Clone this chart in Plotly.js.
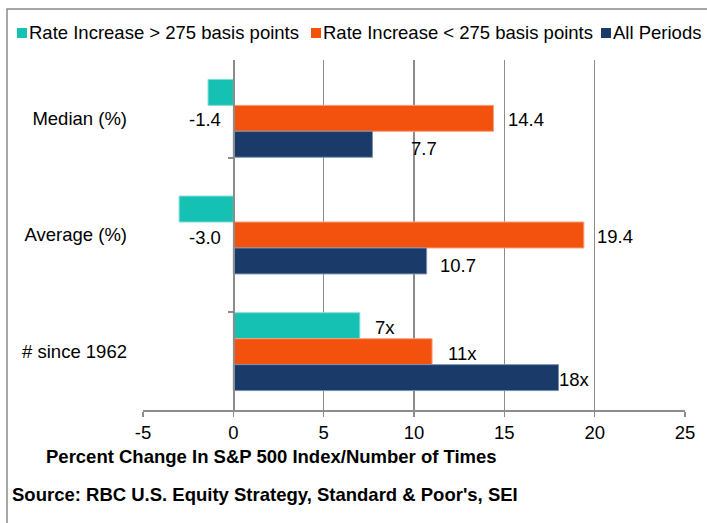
<!DOCTYPE html>
<html>
<head>
<meta charset="utf-8">
<script src="https://cdn.plot.ly/plotly-3.0.1.min.js"></script>
<style>
html, body { margin: 0; padding: 0; background: #ffffff; }
#chart { width: 707px; height: 523px; }
</style>
</head>
<body>
<div id="chart"></div>
<script>
// ---------------- DATA ----------------
const categories = ['Median (%)', 'Average (%)', '# since 1962'];
const seriesNames = ['Rate Increase > 275 basis points', 'Rate Increase < 275 basis points', 'All Periods'];
const rateAbove275 = [-1.4, -3.0, 7];
const rateBelow275 = [14.4, 19.4, 11];
const allPeriods = [7.7, 10.7, 18];
const labelsAbove275 = ['-1.4', '-3.0', '7x'];
const labelsBelow275 = ['14.4', '19.4', '11x'];
const labelsAllPeriods = ['7.7', '10.7', '18x'];
const xTickVals = [-5, 0, 5, 10, 15, 20, 25];
const xTickText = ['-5', '0', '5', '10', '15', '20', '25'];
const axisTitleText = 'Percent Change In S&P 500 Index/Number of Times';
const sourceText = "Source: RBC U.S. Equity Strategy, Standard & Poor's, SEI";

// ---------------- STYLE / GEOMETRY ----------------
const W = 707, H = 523;
const M = { l: 143, r: 22, t: 60, b: 113 };
const plotW = W - M.l - M.r, plotH = H - M.t - M.b;
const xRange = [-5, 25];
const BARGAP = 0.333;
const FONT = 'Liberation Sans, Arial, sans-serif';
const FS = 18.5;
const GRID = '#8c8c8c';
const colors = ['#14c1b2', '#f2520e', '#1a3a6a'];
const edgeColors = ['#7fdcd2', '#f8a07a', '#7c8fb0'];
// label gap (px) from bar end, and extra vertical drop (px)
const labelGap = [[0, 0, 16], [16, 14, 17], [40, 14, 1]];
const labelDrop = [[1.5, 2.5, 1.5], [1.5, 1.5, 1.5], [4.5, 4.5, 1.5]];
const negLabelRightPx = 220;
const legendSquareLeft = [17, 311, 601];
const legendCenterY = 33;

const px2x = px => (px - M.l) / plotW;
const px2y = py => (H - M.b - py) / plotH;

const values = [rateAbove275, rateBelow275, allPeriods];
const labels = [labelsAbove275, labelsBelow275, labelsAllPeriods];

const traces = values.map((vals, i) => ({
  type: 'bar',
  orientation: 'h',
  name: seriesNames[i],
  x: vals,
  y: categories,
  marker: { color: colors[i], line: { color: edgeColors[i], width: 1 } },
  showlegend: false,
  hoverinfo: 'x+name'
}));
// invisible helper trace carrying the category axis drawn at x = 0
traces.push({
  type: 'scatter', mode: 'markers', x: categories.map(() => 0), y: categories,
  yaxis: 'y2', marker: { opacity: 0 }, hoverinfo: 'skip', showlegend: false
});

const catPx = plotH / categories.length;
const barPx = catPx * (1 - BARGAP) / values.length;
const zeroPx = M.l + (0 - xRange[0]) / (xRange[1] - xRange[0]) * plotW;

const annotations = [];
const labelFont = { family: FONT, size: FS, color: '#000000' };
values.forEach((vals, i) => vals.forEach((v, j) => {
  const neg = v < 0;
  const row = neg ? i + 1 : i;
  annotations.push({
    x: neg ? 0 : v, y: categories[j], xref: 'x', yref: 'y',
    text: labels[i][j], showarrow: false,
    xanchor: neg ? 'right' : 'left', yanchor: 'middle',
    xshift: neg ? (negLabelRightPx - zeroPx + 3) : (labelGap[i][j] - 3),
    yshift: -(row - 1) * barPx - labelDrop[i][j],
    font: labelFont
  });
}));

// custom legend (top row, clipped by the page edge like the original)
const shapes = [];
seriesNames.forEach((name, i) => {
  const left = legendSquareLeft[i];
  shapes.push({
    type: 'rect', xref: 'paper', yref: 'paper',
    x0: px2x(left), x1: px2x(left + 10),
    y0: px2y(legendCenterY + 5), y1: px2y(legendCenterY - 5),
    fillcolor: colors[i], line: { width: 0 }
  });
  annotations.push({
    xref: 'paper', yref: 'paper', x: px2x(left + 10), y: px2y(legendCenterY),
    xanchor: 'left', yanchor: 'middle', text: name, showarrow: false,
    font: { family: FONT, size: FS, color: '#000000' }
  });
});

// axis title and source
annotations.push({
  xref: 'paper', yref: 'paper', x: px2x(44), y: px2y(456),
  xanchor: 'left', yanchor: 'middle', showarrow: false,
  text: '<b>' + axisTitleText + '</b>',
  font: { family: FONT, size: FS, color: '#000000' }
});
annotations.push({
  xref: 'paper', yref: 'paper', x: px2x(10), y: px2y(494),
  xanchor: 'left', yanchor: 'middle', showarrow: false,
  text: '<b>' + sourceText + '</b>',
  font: { family: FONT, size: FS, color: '#000000' }
});

// outer frame
shapes.push({
  type: 'rect', xref: 'paper', yref: 'paper', layer: 'below',
  x0: px2x(7), x1: px2x(W + 20), y0: px2y(H + 20), y1: px2y(9),
  line: { color: '#8a8a8a', width: 1.5 }, fillcolor: 'rgba(0,0,0,0)'
});

const layout = {
  width: W, height: H,
  margin: M,
  paper_bgcolor: '#ffffff', plot_bgcolor: '#ffffff',
  font: { family: FONT, size: FS, color: '#000000' },
  barmode: 'group', bargap: BARGAP, bargroupgap: 0,
  showlegend: false,
  xaxis: {
    range: xRange, tickvals: xTickVals, ticktext: xTickText,
    showgrid: true, gridcolor: GRID, gridwidth: 1.5,
    zeroline: false,
    showline: true, linecolor: GRID, linewidth: 1.5,
    ticks: 'outside', ticklen: 5, tickcolor: GRID, tickwidth: 1.5,
    tickfont: { family: FONT, size: FS, color: '#000000' },
    fixedrange: true
  },
  yaxis: {
    type: 'category', categoryorder: 'array', categoryarray: categories,
    autorange: 'reversed',
    showgrid: false, zeroline: false, showline: false, ticks: '',
    ticklabelstandoff: 15,
    tickfont: { family: FONT, size: FS, color: '#000000' },
    fixedrange: true
  },
  yaxis2: {
    type: 'category', categoryorder: 'array', categoryarray: categories,
    autorange: 'reversed', overlaying: 'y', anchor: 'free',
    position: (0 - xRange[0]) / (xRange[1] - xRange[0]), side: 'left',
    showline: true, linecolor: GRID, linewidth: 1.5,
    ticks: 'outside', tickson: 'boundaries', ticklen: 5, tickcolor: GRID, tickwidth: 1.5,
    showticklabels: false, showgrid: false, zeroline: false, fixedrange: true
  },
  annotations: annotations,
  shapes: shapes
};

Plotly.newPlot('chart', traces, layout, { displayModeBar: false, staticPlot: true });
</script>
</body>
</html>
